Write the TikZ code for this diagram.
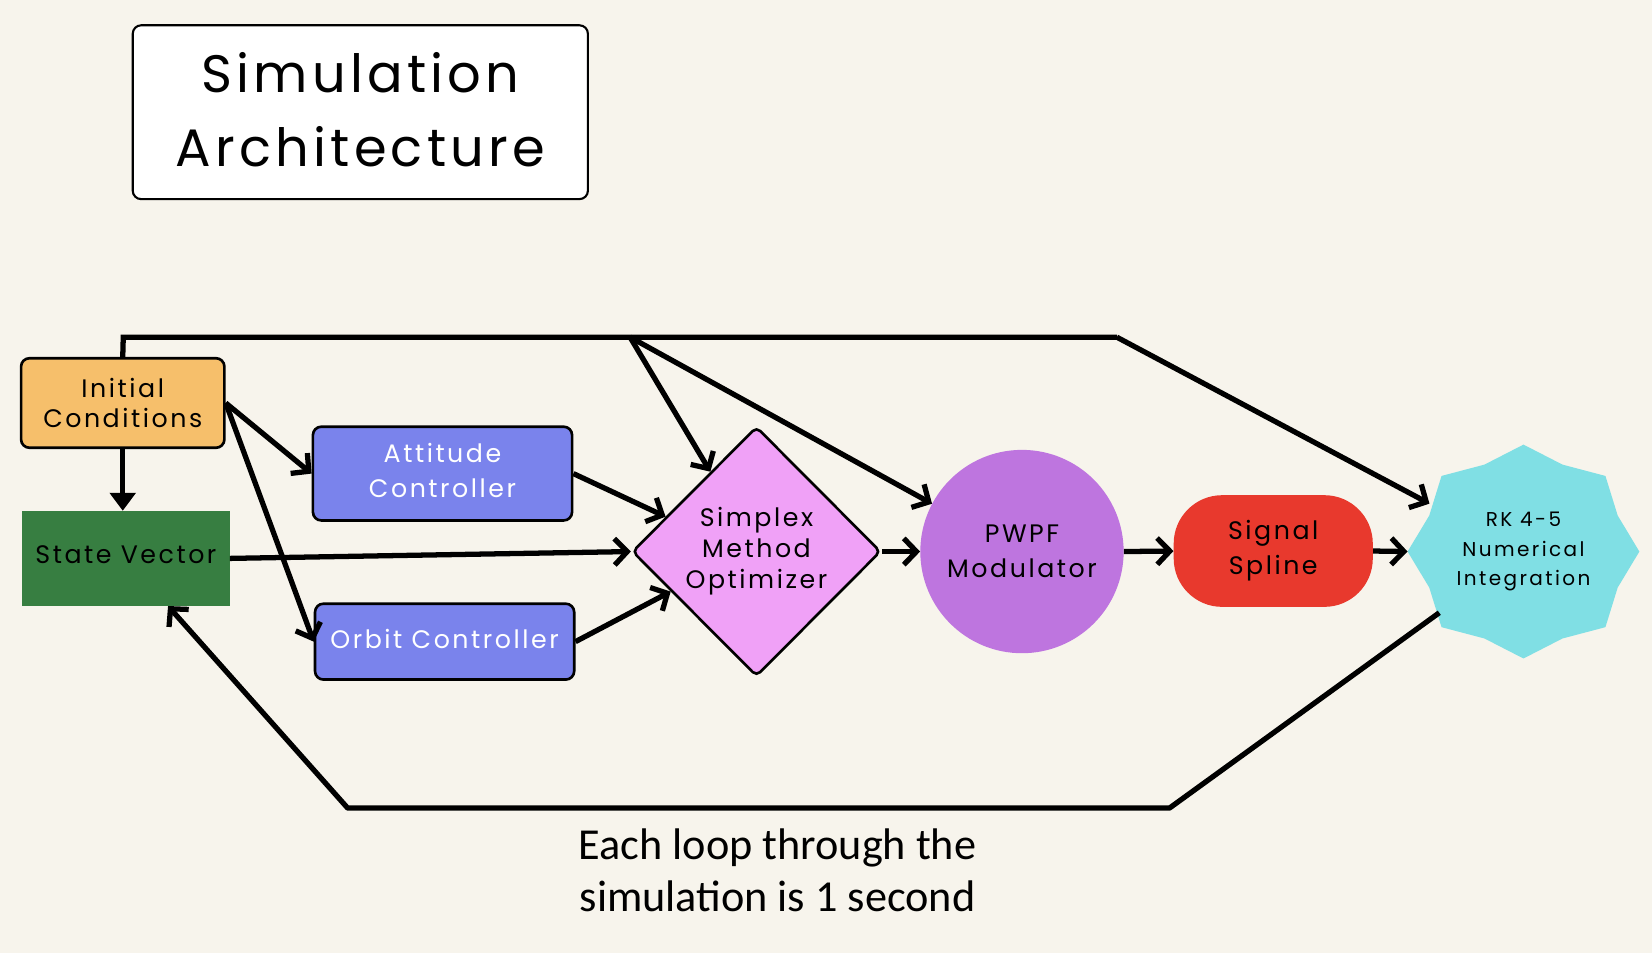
\documentclass[tikz,border=0pt]{standalone}
\usepackage{fontspec}
\setmainfont{Poppins}
\newfontfamily\lblfont[LetterSpace=10]{Poppins}
\newfontfamily\rkfont[LetterSpace=12]{Poppins}
\newfontfamily\ttlfont[LetterSpace=8]{Poppins}
\newfontfamily\notefont{Carlito}
\usetikzlibrary{arrows.meta,shapes.geometric,calc}
\definecolor{bgc}{HTML}{F7F4EC}
\definecolor{icc}{HTML}{F6BF6B}
\definecolor{svc}{HTML}{377E41}
\definecolor{ctlc}{HTML}{7A83EC}
\definecolor{smc}{HTML}{F0A1F7}
\definecolor{pwc}{HTML}{BE75DF}
\definecolor{spc}{HTML}{E8392D}
\definecolor{rkc}{HTML}{80DFE4}
\tikzset{
  box/.style={draw=black, line width=2.5pt, rounded corners=8pt, align=center, inner sep=0pt, text=black},
  lbl/.style={font=\lblfont\fontsize{24}{29}\selectfont},
  conn/.style={line width=5pt, line join=round, -{Straight Barb[length=12pt,width=25pt]}},
  fconn/.style={line width=5pt, -{Triangle[length=17pt,width=24pt]}},
}
\begin{document}
\begin{tikzpicture}[x=1pt,y=-1pt]
\fill[bgc] (0,0) rectangle (1568,905);
\useasboundingbox (0,0) rectangle (1568,905);

% title
\node[box, line width=2pt, fill=white, minimum width=432pt, minimum height=165pt, text depth=5pt,
      font=\ttlfont\fontsize{50}{70}\selectfont] (title) at (342,106.5) {Simulation\\Architecture};

% nodes
\node[box, lbl, fill=icc, minimum width=193pt, minimum height=85pt] (ic) at (116.5,382.5) {Initial\\Conditions};
\node[lbl, fill=svc, minimum width=197pt, minimum height=90pt, inner sep=0pt, text depth=8pt] (sv) at (119.5,530) {State Vector};
\node[box, lbl, fill=ctlc, text=white, minimum width=246pt, minimum height=89pt, text depth=6pt, font=\lblfont\fontsize{24}{33}\selectfont] (att) at (420,449.5) {Attitude\\Controller};
\node[box, lbl, fill=ctlc, text=white, minimum width=246pt, minimum height=72pt, text depth=5pt] (orb) at (422,609) {Orbit Controller};
\node[shape=diamond, aspect=1, draw=black, line width=2.5pt, fill=smc, rounded corners=5pt, inner sep=0pt,
      minimum width=236pt, minimum height=237pt, align=center, lbl, font=\lblfont\fontsize{24}{29.5}\selectfont] (simplex) at (718,523.5) {Simplex\\Method\\Optimizer};
\node[circle, fill=pwc, minimum size=193pt, inner sep=0pt, align=center, lbl, font=\lblfont\fontsize{24}{33}\selectfont] (pwpf) at (970,523.5) {PWPF\\Modulator};
\node[rectangle, rounded corners=46pt, fill=spc, minimum width=189pt, minimum height=106pt, inner sep=0pt, align=center, lbl, font=\lblfont\fontsize{24}{33}\selectfont] (spline) at (1208.5,523) {Signal\\Spline};

% RK star
\fill[rkc] plot[samples at={0,1,...,15}] ({1446+(1-0.12*mod(\x,2))*110*cos(\x*22.5)},{523.5+(1-0.12*mod(\x,2))*101.5*sin(\x*22.5)}) -- cycle;
\node[ellipse, minimum width=204pt, minimum height=186pt, inner sep=0pt, align=center,
      font=\rkfont\fontsize{19}{28}\selectfont] (rk) at (1446,523.5) {RK 4-5\\Numerical\\Integration};
\coordinate (rkW) at (1336,523.5);

% helper coordinates
\coordinate (topL) at (117,320);
\coordinate (topJ) at (598,320);
\coordinate (topR) at (1060,320);
\coordinate (fbR) at (1110,767);
\coordinate (fbL) at (330,767);
\coordinate (svB) at ([xshift=40pt]sv.south);

% connectors
\draw[line width=5pt, line join=miter] (ic.north) -- (topL) -- (topR);
\draw[conn] (topR) -- (rk.153);
\draw[conn] (topJ) -- (simplex.120);
\draw[conn] (topJ) -- (pwpf.152);
\draw[fconn] (ic.south) -- (ic.south |- sv.north);
\draw[conn] (ic.east) -- (att.west);
\draw[conn] (ic.east) -- (orb.west);
\draw[conn] (att.east) -- (simplex.159);
\draw[conn] (sv.east) -- (simplex.west);
\draw[conn] (orb.east) -- (simplex.205);
\draw[conn] (simplex.east) -- (pwpf.west);
\draw[conn] (pwpf.east) -- (spline.west);
\draw[conn] (spline.east) -- (rkW);
\draw[conn] (rk.216) -- (fbR) -- (fbL) -- (svB);

% note
\node[font=\notefont\fontsize{42}{49}\selectfont, align=center, inner sep=0pt] (note) at (738,826) {Each loop through the\\simulation is 1 second};
\end{tikzpicture}
\end{document}
